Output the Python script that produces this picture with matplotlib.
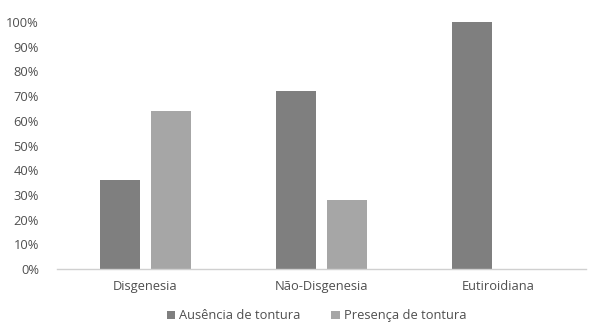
import matplotlib
matplotlib.use("Agg")
import matplotlib.pyplot as plt
import numpy as np
from matplotlib.ticker import PercentFormatter

categories = ["Disgenesia", "Não-Disgenesia", "Eutiroidiana"]
series_names = ["Ausência de tontura", "Presença de tontura"]
ausencia = [36, 72, 100]
presenca = [64, 28, 0]
yticks = [0, 10, 20, 30, 40, 50, 60, 70, 80, 90, 100]

plt.rcParams['font.family'] = ['Open Sans', 'DejaVu Sans']
text_color = "#4f4f4f"

fig = plt.figure(figsize=(5.89, 3.24), dpi=100)
ax = fig.add_axes([0.0968, 0.1698, 0.8982, 0.7622])

x = np.arange(len(categories))
w = 0.227
gap = 0.062
ax.bar(x - (w + gap) / 2, ausencia, width=w, color="#7f7f7f", label=series_names[0])
ax.bar(x + (w + gap) / 2, presenca, width=w, color="#a6a6a6", label=series_names[1])

ax.set_xlim(-0.5, 2.5)
ax.set_ylim(0, 100)
ax.set_yticks(yticks)
ax.yaxis.set_major_formatter(PercentFormatter(decimals=0))
ax.set_xticks(x)
ax.set_xticklabels(categories)
ax.tick_params(axis='both', length=0, labelsize=9.3, colors=text_color)
ax.tick_params(axis='y', pad=13)
ax.tick_params(axis='x', pad=8)
for s in ["top", "right", "left"]:
    ax.spines[s].set_visible(False)
ax.spines["bottom"].set_color("#d0d0d0")
ax.spines["bottom"].set_linewidth(1.0)

leg = fig.legend(loc="center", bbox_to_anchor=(0.537, 0.025), ncol=2, frameon=False,
                 fontsize=9.3, handlelength=0.65, handleheight=0.65, handletextpad=0.3,
                 columnspacing=2.4)
for t in leg.get_texts():
    t.set_color(text_color)

fig.savefig("out.png", dpi=100)
